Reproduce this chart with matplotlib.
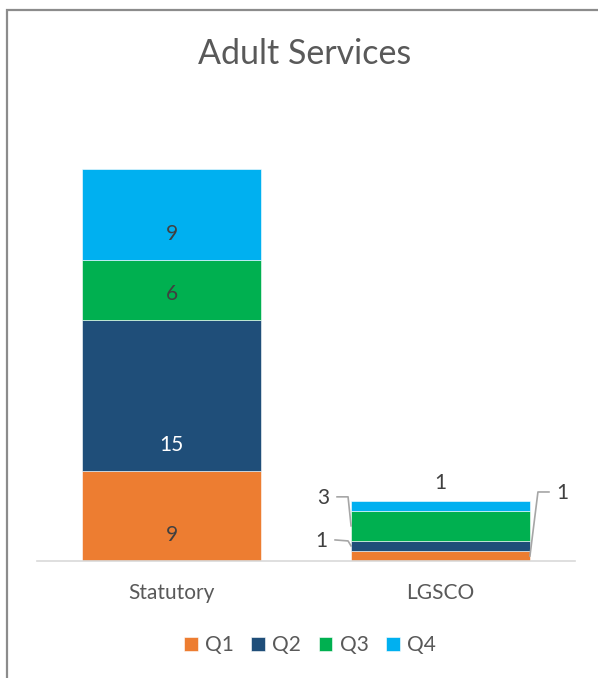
import matplotlib
matplotlib.use("Agg")
import matplotlib.pyplot as plt
from matplotlib.lines import Line2D
from matplotlib.patches import Rectangle
import numpy as np

plt.rcParams['font.family'] = ['Lato', 'DejaVu Sans']

# Data
categories = ["Statutory", "LGSCO"]
quarters = ["Q1", "Q2", "Q3", "Q4"]
q1 = [9, 1]
q2 = [15, 1]
q3 = [6, 3]
q4 = [9, 1]
series = [q1, q2, q3, q4]
colors = ["#ED7D31", "#1F4E79", "#00B050", "#00B0F0"]
inside_text = ["#404040", "white", "#404040", "#404040"]

W, H = 598, 678
fig = plt.figure(figsize=(W / 100, H / 100), dpi=100)

# outer chart frame
fig.patches.append(Rectangle((7 / W, -0.1), 1.2, (H - 10) / H + 0.1,
                             transform=fig.transFigure, fill=False,
                             edgecolor="#8C8C8C", linewidth=1.6))

ax = fig.add_axes([37 / W, (H - 561) / H, 538 / W, 452 / H])
x = np.arange(len(categories))
width = 0.665
bottoms = np.zeros(len(categories))
bars = []
for vals, col, q in zip(series, colors, quarters):
    ax.bar(x, vals, width, bottom=bottoms, color=col, label=q,
           edgecolor="white", linewidth=0.4)
    bars.append((np.array(vals, float), bottoms.copy()))
    bottoms = bottoms + np.array(vals)

ax.set_xlim(-0.5, 1.5)
ax.set_ylim(0, 45)
ax.set_yticks([])
ax.set_xticks(x)
ax.set_xticklabels(categories, fontsize=15, color="#595959")
ax.tick_params(axis="x", length=0, pad=16)
for s in ["top", "right", "left"]:
    ax.spines[s].set_visible(False)
ax.spines["bottom"].set_color("#D9D9D9")
ax.spines["bottom"].set_linewidth(1.2)

label_color = "#404040"
fs = 15

# Statutory labels sit near the base of each segment
for (vals, bot), tc in zip(bars, inside_text):
    v, b0 = vals[0], bot[0]
    ax.annotate(f"{int(v)}", xy=(x[0], b0), xytext=(0, 18.5),
                textcoords="offset points", ha="center", va="center",
                fontsize=fs, color=tc)

# LGSCO labels with leader lines (pixel offsets from anchor)
fig.canvas.draw()
to_disp = ax.transData.transform


def callout(anchor, pts, text_off, text):
    ax0, ay0 = to_disp(anchor)
    xs = [ax0] + [ax0 + dx for dx, dy in pts]
    ys = [ay0] + [ay0 - dy for dx, dy in pts]
    fig.add_artist(Line2D(xs, ys, transform=None, color="#A6A6A6",
                          linewidth=1.2))
    fig.text(ax0 + text_off[0], ay0 - text_off[1], text, transform=None,
             ha="center", va="center", fontsize=fs, color=label_color)


left_edge = x[1] - width / 2
right_edge = x[1] + width / 2
v1, b1 = bars[0][0][1], bars[0][1][1]
v2, b2 = bars[1][0][1], bars[1][1][1]
v3, b3 = bars[2][0][1], bars[2][1][1]
v4, b4 = bars[3][0][1], bars[3][1][1]

# Q1: right side
callout((right_edge, b1 + v1 / 2), [(8, -64), (19, -64)], (32, -63), f"{int(v1)}")
# Q2: left side
callout((left_edge, b2 + v2 / 2), [(-3, -5), (-16, -6)], (-30, -5), f"{int(v2)}")
# Q3: left side
callout((left_edge, b3 + v3 / 2), [(-3, -29), (-14, -29)], (-28, -28), f"{int(v3)}")
# Q4: above the bar
ax.annotate(f"{int(v4)}", xy=(x[1], b4 + v4), xytext=(0, 12.5),
            textcoords="offset points", ha="center", va="center",
            fontsize=fs, color=label_color)

fig.text(305 / W, (H - 54) / H, "Adult Services", ha="center", va="center",
         fontsize=24.5, color="#595959")

leg = fig.legend(loc="center", bbox_to_anchor=(310 / W, (H - 645) / H),
                 ncol=4, frameon=False, fontsize=15, handlelength=0.65,
                 handleheight=0.65, handletextpad=0.35, columnspacing=0.85)
for t in leg.get_texts():
    t.set_color("#595959")

fig.savefig("out.png", dpi=100)
